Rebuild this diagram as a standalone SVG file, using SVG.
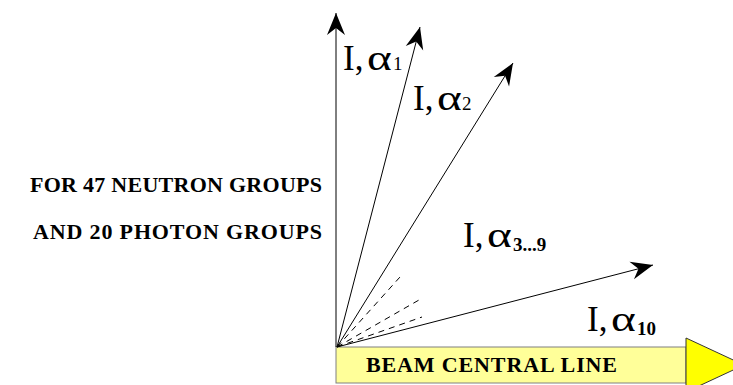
<svg xmlns="http://www.w3.org/2000/svg" width="733" height="385" viewBox="0 0 733 385">
<style>
.lbl{font-family:"Liberation Serif","Times New Roman",serif;fill:#000}
.big{font-size:35px}
.sub{font-size:19px}
.bold{font-weight:bold}
.side{font-family:"Liberation Serif","Times New Roman",serif;font-size:22px;font-weight:bold;fill:#000}
.ray{stroke:#000;stroke-width:1;fill:none}
.dash{stroke:#000;stroke-width:1;stroke-dasharray:6 5;fill:none}
</style>
<defs>
<marker id="ah" markerUnits="userSpaceOnUse" markerWidth="30" markerHeight="24" viewBox="-24 -12 26 24" refX="0" refY="0" orient="auto">
<path d="M0,0 L-22,-9 L-15,0 L-22,9 Z" fill="#000"/>
</marker>
</defs>
<rect width="733" height="385" fill="#fff"/>
<g id="beam">
<rect x="336" y="347" width="350" height="36" fill="#FFFF99" stroke="#808080" stroke-width="1"/>
<polygon points="686,338 744,365 686,392" fill="#FFFF00" stroke="#333" stroke-width="1"/>
<text class="side" x="366" y="372" textLength="251" lengthAdjust="spacing">BEAM CENTRAL LINE</text>
</g>
<g id="connectors">
<line class="ray" x1="336" y1="347" x2="336" y2="13" stroke="#444" marker-end="url(#ah)"/>
<line class="ray" x1="337" y1="347" x2="420" y2="27" marker-end="url(#ah)"/>
<line class="ray" x1="337" y1="347" x2="513" y2="63" marker-end="url(#ah)"/>
<line class="ray" x1="337" y1="347" x2="653" y2="265" marker-end="url(#ah)"/>
<line class="dash" x1="337" y1="347" x2="400" y2="277"/>
<line class="dash" x1="337" y1="347" x2="419" y2="300"/>
<line class="dash" x1="337" y1="347" x2="422" y2="317"/>
</g>
<g id="label-a1">
<text class="lbl big" x="343" y="70">I,</text>
<text class="lbl big" transform="translate(367,70) scale(1.35,1)">α</text>
<text class="lbl sub" x="393" y="70">1</text>
</g>
<g id="label-a2">
<text class="lbl big" x="413" y="110">I,</text>
<text class="lbl big" transform="translate(437,110) scale(1.35,1)">α</text>
<text class="lbl sub" x="462" y="110">2</text>
</g>
<g id="label-a3-9">
<text class="lbl big" x="463" y="247">I,</text>
<text class="lbl big" transform="translate(487,247) scale(1.35,1)">α</text>
<text class="lbl sub bold" x="513" y="251">3...9</text>
</g>
<g id="label-a10">
<text class="lbl big" x="587" y="331">I,</text>
<text class="lbl big" transform="translate(611,331) scale(1.35,1)">α</text>
<text class="lbl sub bold" x="637" y="335">10</text>
</g>
<g id="groups-note">
<text class="side" x="30" y="192" textLength="292" lengthAdjust="spacing">FOR 47 NEUTRON GROUPS</text>
<text class="side" x="33" y="239" textLength="289" lengthAdjust="spacing">AND 20 PHOTON GROUPS</text>
</g>
</svg>
